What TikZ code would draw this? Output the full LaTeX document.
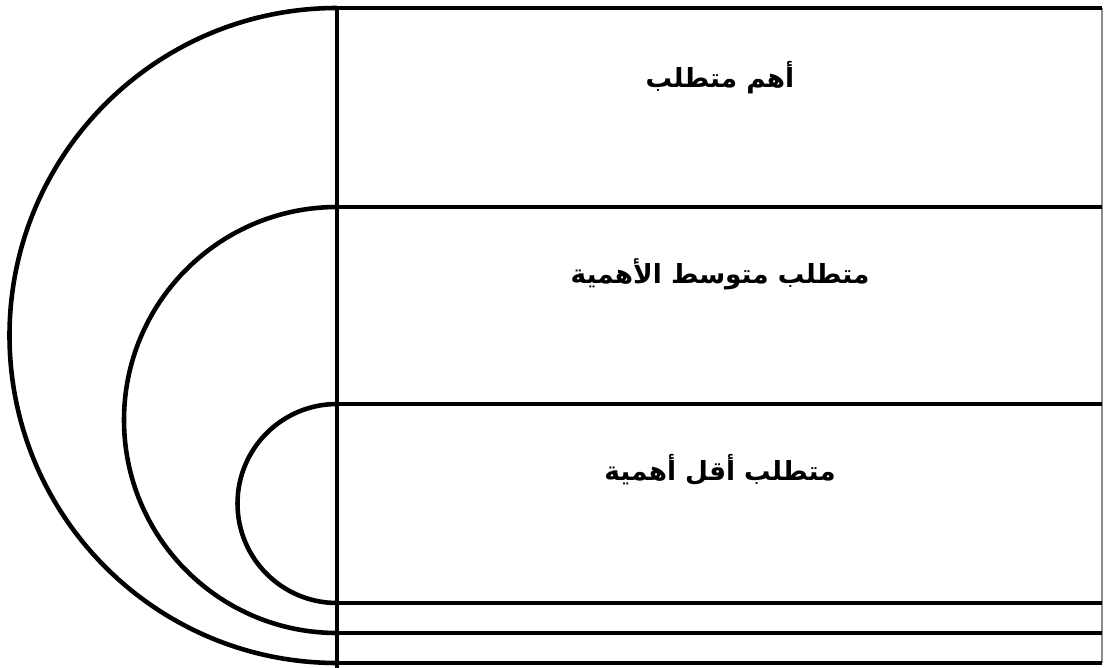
\documentclass[tikz,border=0pt]{standalone}
\usepackage{fontspec}
\usepackage{tikz}
\usetikzlibrary{positioning, calc}
\newfontfamily\arabicfont[Script=Arabic]{DejaVu Sans}
\TeXXeTstate=1
\tikzset{
    rim/.style={line width=2.6pt, black},
    edgeline/.style={line width=0.6pt, black!45},
    levellabel/.style={font=\arabicfont\bfseries\fontsize{15}{18}\selectfont, anchor=center, inner sep=0pt},
}

\begin{document}
\begin{tikzpicture}[x=0.02cm, y=-0.02cm]

\useasboundingbox (0,0) rectangle (1104,668);

% band boundaries
\coordinate (t1) at (337,8);
\coordinate (t2) at (337,207);
\coordinate (t3) at (337,404);
\coordinate (b3) at (337,603);
\coordinate (b2) at (337,633);
\coordinate (b1) at (337,663);

% half rings
\draw[rim] (t1) arc[start angle=270, end angle=90, radius=327.5];
\draw[rim] (t2) arc[start angle=270, end angle=90, radius=213];
\draw[rim] (t3) arc[start angle=270, end angle=90, radius=99.5];

% table
\draw[edgeline] (1102,8) -- (1102,663);
\foreach \c in {t1,t2,t3,b3,b2,b1}
    \draw[rim] (\c) -- ($(\c)+(765,0)$);
\draw[rim] (t1) -- (337,668);

\node[levellabel] (most) at (720,78) {\beginR أهم متطلب\endR};
\node[levellabel] (mid) at (720,274) {\beginR متطلب متوسط الأهمية\endR};
\node[levellabel] (least) at (720,470) {\beginR متطلب أقل أهمية\endR};

\end{tikzpicture}
\end{document}
